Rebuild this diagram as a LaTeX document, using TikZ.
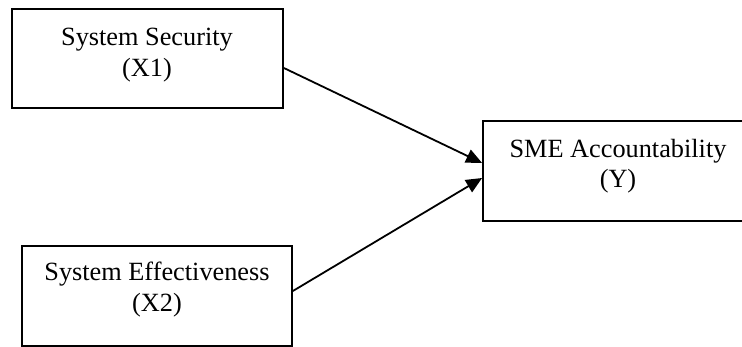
\documentclass[tikz,border=0pt]{standalone}
\usepackage{fontspec}
\setmainfont{Liberation Serif}
\usetikzlibrary{arrows.meta}
\begin{document}
\begin{tikzpicture}[x=1pt,y=-1pt,
  box/.style={draw=black,line width=1.8pt,inner sep=0pt,fill=none},
  lbl/.style={anchor=base,inner sep=0pt,font=\fontsize{26.3}{31}\selectfont},
  conn/.style={line width=1.8pt,-{Triangle[length=16pt,width=14pt]}}]
\useasboundingbox (0,0) rectangle (742,347);
\fill[white] (0,0) rectangle (742,347);
% boxes
\node[box,minimum width=271pt,minimum height=99pt] (b1) at (147.5,58.5) {};
\node[box,minimum width=270pt,minimum height=100pt] (b3) at (157,296) {};
\node[box,minimum width=270pt,minimum height=100pt] (sme) at (618,171) {};
% texts
\node[lbl] (t1a) at (147,45.5) {System Security};
\node[lbl] (t1b) at (147,76.5) {(X1)};
\node[lbl] (t3a) at (157,281) {System Effectiveness};
\node[lbl] (t3b) at (157,312) {(X2)};
\node[lbl] (tya) at (618,157.5) {SME Accountability};
\node[lbl] (tyb) at (618,188) {(Y)};
% connectors
\draw[conn] ([yshift=-9.5pt]b1.east) -- ([yshift=8pt]sme.west);
\draw[conn] ([yshift=5pt]b3.east) -- ([yshift=-7pt]sme.west);
\end{tikzpicture}
\end{document}
